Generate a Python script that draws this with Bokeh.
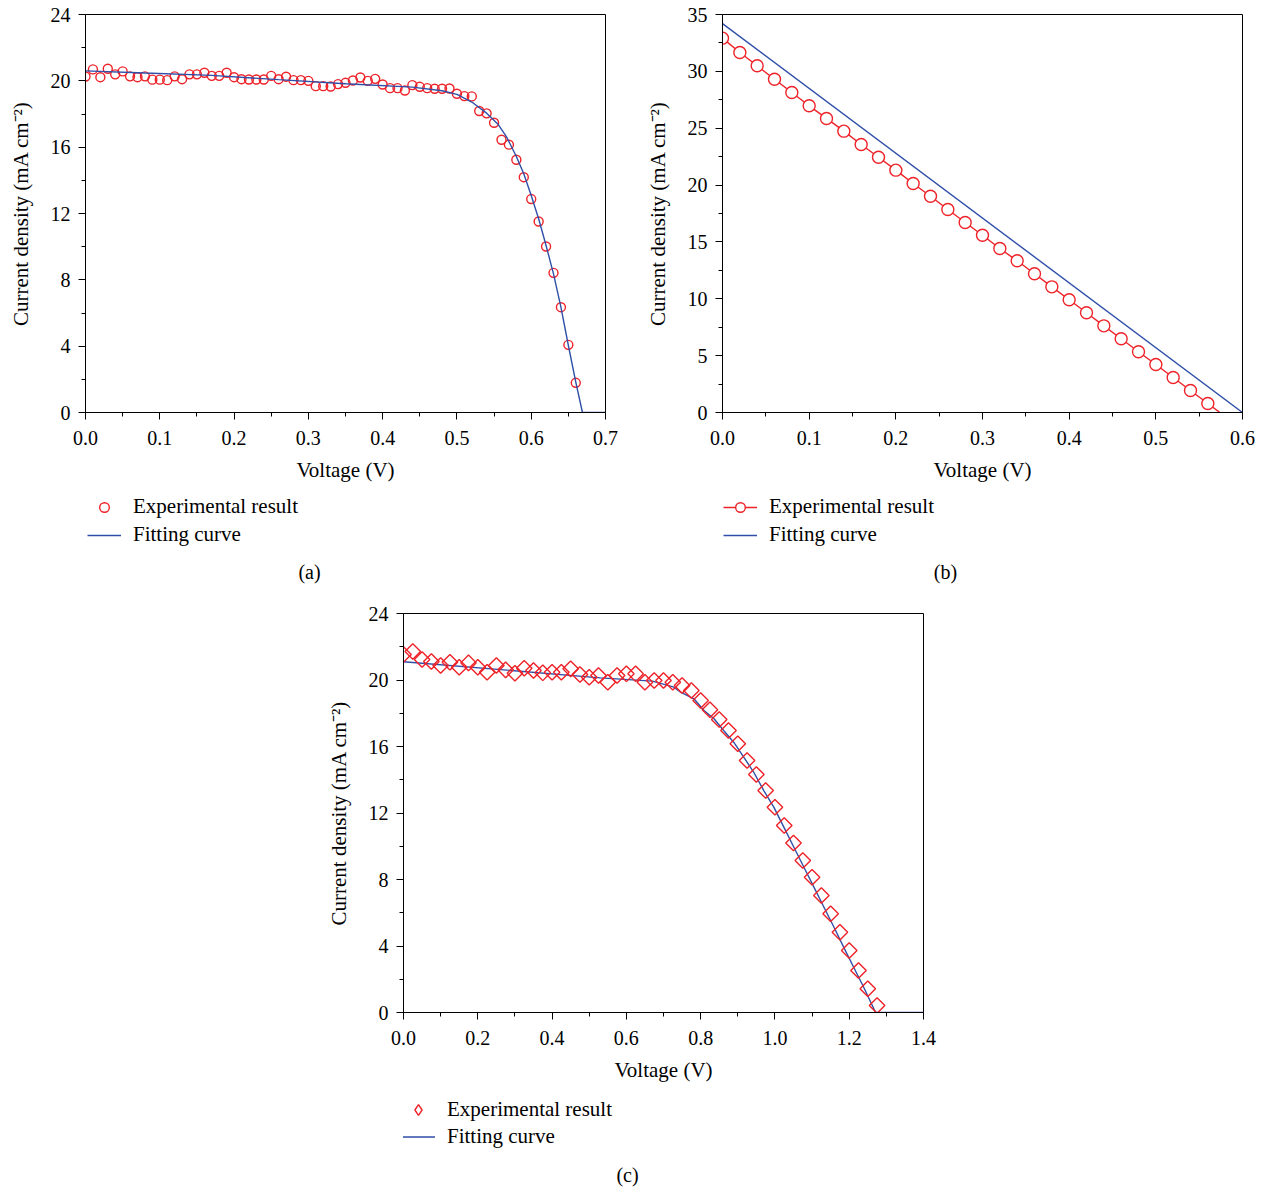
import math
from bokeh.plotting import figure
from bokeh.models import (Range1d, FixedTicker, NumeralTickFormatter, Legend,
                          LegendItem, Label, Spacer)
from bokeh.layouts import row, column
from bokeh.embed import file_html
from bokeh.resources import INLINE

# ---------------- data ----------------
# Panel (a)
a_voltage = [0.00, 0.01, 0.02, 0.03, 0.04, 0.05, 0.06, 0.07, 0.08, 0.09,
             0.10, 0.11, 0.12, 0.13, 0.14, 0.15, 0.16, 0.17, 0.18, 0.19,
             0.20, 0.21, 0.22, 0.23, 0.24, 0.25, 0.26, 0.27, 0.28, 0.29,
             0.30, 0.31, 0.32, 0.33, 0.34, 0.35, 0.36, 0.37, 0.38, 0.39,
             0.40, 0.41, 0.42, 0.43, 0.44, 0.45, 0.46, 0.47, 0.48, 0.49,
             0.50, 0.51, 0.52, 0.53, 0.54, 0.55, 0.56, 0.57, 0.58, 0.59,
             0.60, 0.61, 0.62, 0.63, 0.64, 0.65, 0.66]
a_current = [20.26, 20.69, 20.22, 20.73, 20.39, 20.57, 20.27, 20.22, 20.27, 20.07,
             20.07, 20.04, 20.27, 20.10, 20.39, 20.39, 20.49, 20.30, 20.30, 20.49,
             20.22, 20.10, 20.08, 20.08, 20.08, 20.30, 20.10, 20.25, 20.04, 20.04,
             20.00, 19.68, 19.68, 19.66, 19.80, 19.88, 20.02, 20.20, 20.00, 20.12,
             19.78, 19.56, 19.56, 19.42, 19.74, 19.64, 19.56, 19.52, 19.52, 19.54,
             19.22, 19.08, 19.06, 18.18, 18.04, 17.47, 16.45, 16.15, 15.24, 14.19,
             12.87, 11.52, 10.01, 8.42, 6.35, 4.08, 1.79]
a_fit_voltage = [0.00, 0.08, 0.17, 0.26, 0.35, 0.44, 0.48, 0.50, 0.52, 0.54,
                 0.555, 0.567, 0.58, 0.59, 0.60, 0.61, 0.62, 0.63, 0.64, 0.65,
                 0.66, 0.669, 0.70]
a_fit_current = [20.60, 20.47, 20.33, 20.07, 19.82, 19.62, 19.40, 19.18, 18.72, 18.05,
                 17.40, 16.60, 15.44, 14.40, 13.09, 11.68, 10.07, 8.36, 6.35, 4.04,
                 1.83, 0.00, 0.00]
a_xticks = [0.0, 0.1, 0.2, 0.3, 0.4, 0.5, 0.6, 0.7]
a_xminor = [0.05, 0.15, 0.25, 0.35, 0.45, 0.55, 0.65]
a_yticks = [0, 4, 8, 12, 16, 20, 24]
a_yminor = [2, 6, 10, 14, 18, 22]

# Panel (b)
b_voltage = [0.00, 0.02, 0.04, 0.06, 0.08, 0.10, 0.12, 0.14, 0.16, 0.18,
             0.20, 0.22, 0.24, 0.26, 0.28, 0.30, 0.32, 0.34, 0.36, 0.38,
             0.40, 0.42, 0.44, 0.46, 0.48, 0.50, 0.52, 0.54, 0.56, 0.58]
b_current = [32.92, 31.66, 30.49, 29.31, 28.14, 26.97, 25.86, 24.74, 23.57, 22.45,
             21.31, 20.14, 19.02, 17.85, 16.71, 15.59, 14.42, 13.34, 12.20, 11.05,
             9.91, 8.77, 7.62, 6.48, 5.34, 4.22, 3.08, 1.93, 0.79, -0.35]
b_fit_voltage = [0.0, 0.6]
b_fit_current = [34.2, 0.0]
b_xticks = [0.0, 0.1, 0.2, 0.3, 0.4, 0.5, 0.6]
b_xminor = [0.05, 0.15, 0.25, 0.35, 0.45, 0.55]
b_yticks = [0, 5, 10, 15, 20, 25, 30, 35]
b_yminor = [2.5, 7.5, 12.5, 17.5, 22.5, 27.5, 32.5]

# Panel (c)
c_voltage = [0.000, 0.025, 0.050, 0.075, 0.100, 0.125, 0.150, 0.175, 0.200, 0.225,
             0.250, 0.275, 0.300, 0.325, 0.350, 0.375, 0.400, 0.425, 0.450, 0.475,
             0.500, 0.525, 0.550, 0.575, 0.600, 0.625, 0.650, 0.675, 0.700, 0.725,
             0.750, 0.775, 0.800, 0.825, 0.850, 0.875, 0.900, 0.925, 0.950, 0.975,
             1.000, 1.025, 1.050, 1.075, 1.100, 1.125, 1.150, 1.175, 1.200, 1.225,
             1.250, 1.275]
c_current = [21.53, 21.71, 21.23, 21.11, 20.87, 21.07, 20.77, 21.03, 20.77, 20.47,
             20.87, 20.61, 20.41, 20.71, 20.57, 20.43, 20.47, 20.47, 20.67, 20.33,
             20.17, 20.27, 19.87, 20.27, 20.37, 20.37, 19.87, 19.97, 19.97, 19.87,
             19.67, 19.37, 18.77, 18.21, 17.62, 16.96, 16.16, 15.16, 14.32, 13.35,
             12.35, 11.25, 10.19, 9.14, 8.14, 7.04, 5.94, 4.83, 3.73, 2.53,
             1.43, 0.42]
c_fit_voltage = [0.0, 0.27, 0.53, 0.67, 0.728, 0.746, 0.782, 0.809, 0.836, 0.862,
                 0.889, 0.916, 0.943, 0.970, 0.997, 1.024, 1.051, 1.078, 1.105, 1.132,
                 1.159, 1.185, 1.212, 1.239, 1.271, 1.4]
c_fit_current = [21.10, 20.61, 20.13, 19.93, 19.57, 19.27, 18.87, 18.17, 17.67, 16.96,
                 16.26, 15.36, 14.45, 13.35, 12.35, 11.15, 9.94, 8.74, 7.54, 6.33,
                 5.13, 3.93, 2.72, 1.52, 0.00, 0.00]
c_xticks = [0.0, 0.2, 0.4, 0.6, 0.8, 1.0, 1.2, 1.4]
c_xminor = [0.1, 0.3, 0.5, 0.7, 0.9, 1.1, 1.3]
c_yticks = [0, 4, 8, 12, 16, 20, 24]
c_yminor = [2, 6, 10, 14, 18, 22]

x_label = "Voltage (V)"
y_label = "Current density (mA cm\u207b\u00b2)"
legend_labels = ["Experimental result", "Fitting curve"]
captions = ["(a)", "(b)", "(c)"]

# ---------------- style ----------------
FONT = "Liberation Serif"
RED = "#ee2228"
BLUE = "#2f4fa8"


def make_fig(xr, yr, xt, xm, yt, ym, bl, br, bt, bb, fh, xfmt, yfmt):
    p = figure(frame_width=520, frame_height=fh,
               x_range=Range1d(*xr), y_range=Range1d(*yr),
               min_border_left=bl, min_border_right=br,
               min_border_top=bt, min_border_bottom=bb,
               output_backend="svg", toolbar_location=None,
               background_fill_color="white", border_fill_color="white")
    p.xgrid.visible = False
    p.ygrid.visible = False
    p.outline_line_color = "black"
    p.outline_line_alpha = 1.0
    p.outline_line_width = 1
    p.xaxis.ticker = FixedTicker(ticks=xt, minor_ticks=xm)
    p.yaxis.ticker = FixedTicker(ticks=yt, minor_ticks=ym)
    p.xaxis.formatter = NumeralTickFormatter(format=xfmt)
    p.yaxis.formatter = NumeralTickFormatter(format=yfmt)
    p.xaxis.axis_label = x_label
    p.yaxis.axis_label = y_label
    for ax in (p.xaxis[0], p.yaxis[0]):
        ax.axis_line_color = "black"
        ax.major_tick_line_color = "black"
        ax.minor_tick_line_color = "black"
        ax.major_tick_in = 0
        ax.major_tick_out = 7
        ax.minor_tick_in = 0
        ax.minor_tick_out = 4
        ax.major_label_text_font = FONT
        ax.major_label_text_font_size = "20px"
        ax.major_label_text_color = "black"
        ax.axis_label_text_font = FONT
        ax.axis_label_text_font_size = "21px"
        ax.axis_label_text_font_style = "normal"
        ax.axis_label_text_color = "black"
    p.xaxis.major_label_standoff = 11
    p.yaxis.major_label_standoff = 8
    p.xaxis.axis_label_standoff = 10
    p.yaxis.axis_label_standoff = 15
    return p


def make_key(width, height, series, legend_loc, caption, cap_x, cap_y,
             glyph_h=24, spacing=3):
    """Legend + caption strip below a panel (data kept out of its view)."""
    k = figure(width=width, height=height, x_range=Range1d(-2, -1),
               y_range=Range1d(0, 1), min_border=0,
               min_border_left=0, min_border_right=0,
               min_border_top=0, min_border_bottom=0,
               x_axis_location=None, y_axis_location=None,
               output_backend="svg", toolbar_location=None,
               background_fill_color="white", border_fill_color="white")
    k.outline_line_color = None
    k.xgrid.visible = False
    k.ygrid.visible = False
    items = []
    for label, renderers in zip(legend_labels, series):
        rs = [fn(k) for fn in renderers]
        items.append(LegendItem(label=label, renderers=rs))
    lg = Legend(items=items, location=legend_loc)
    lg.border_line_color = None
    lg.background_fill_alpha = 0
    lg.padding = 0
    lg.margin = 0
    lg.glyph_width = 34
    lg.glyph_height = glyph_h
    lg.label_height = glyph_h
    lg.label_standoff = 12
    lg.spacing = spacing
    lg.label_text_font = FONT
    lg.label_text_font_size = "21px"
    lg.label_text_color = "black"
    k.add_layout(lg)
    k.add_layout(Label(x=cap_x, y=cap_y, x_units="screen", y_units="screen",
                       text=caption, text_font=FONT, text_font_size="20px",
                       text_align="center", text_baseline="middle",
                       text_color="black"))
    return k


# ---------------- panel (a) ----------------
pa = make_fig((0, 0.7), (0, 24), a_xticks, a_xminor, a_yticks, a_yminor,
              85, 25, 14, 80, 398, "0.0", "0")
pa.scatter(a_voltage, a_current, marker="circle", size=9,
           line_color=RED, line_width=1.4, fill_color=None)
pa.line(a_fit_voltage, a_fit_current, line_color=BLUE, line_width=1.4)
ka = make_key(630, 98, [
    [lambda k: k.scatter(a_voltage, a_current, marker="circle", size=9,
                         line_color=RED, line_width=1.4, fill_color=None)],
    [lambda k: k.line(a_fit_voltage, a_fit_current, line_color=BLUE, line_width=1.4)],
], (2, 43), captions[0], 224, 19)

# ---------------- panel (b) ----------------
pb = make_fig((0, 0.6), (0, 35), b_xticks, b_xminor, b_yticks, b_yminor,
              92, 18, 14, 80, 398, "0.0", "0")
pb.line(b_fit_voltage, b_fit_current, line_color=BLUE, line_width=1.4)
pb.line(b_voltage, b_current, line_color=RED, line_width=1.4)
pb.scatter(b_voltage[:29], b_current[:29], marker="circle", size=12,
           line_color=RED, line_width=1.4, fill_color="white")
kb = make_key(630, 98, [
    [lambda k: k.line(b_voltage, b_current, line_color=RED, line_width=1.4),
     lambda k: k.scatter(b_voltage, b_current, marker="circle", size=12,
                         line_color=RED, line_width=1.4, fill_color="white")],
    [lambda k: k.line(b_fit_voltage, b_fit_current, line_color=BLUE, line_width=1.4)],
], (1, 43), captions[1], 223, 19)

# ---------------- panel (c) ----------------
pc = make_fig((0, 1.4), (0, 24), c_xticks, c_xminor, c_yticks, c_yminor,
              103, 17, 23, 80, 399, "0.0", "0")
pc.line(c_fit_voltage, c_fit_current, line_color=BLUE, line_width=1.4)
pc.scatter(c_voltage, c_current, marker="square", angle=math.pi / 4,
           size=11, line_color=RED, line_width=1.4, fill_color=None)
kc = make_key(640, 98, [
    [lambda k: k.scatter(c_voltage, c_current, marker="diamond",
                         size=11, line_color=RED, line_width=1.4, fill_color=None)],
    [lambda k: k.line(c_fit_voltage, c_fit_current, line_color=BLUE, line_width=1.4)],
], (-2, 40), captions[2], 224, 16, glyph_h=27, spacing=0)

layout = column(
    row(column(pa, ka), column(pb, kb)),
    row(Spacer(width=300, height=10), column(pc, kc)),
)

open("out.html", "w").write(file_html(layout, INLINE))
